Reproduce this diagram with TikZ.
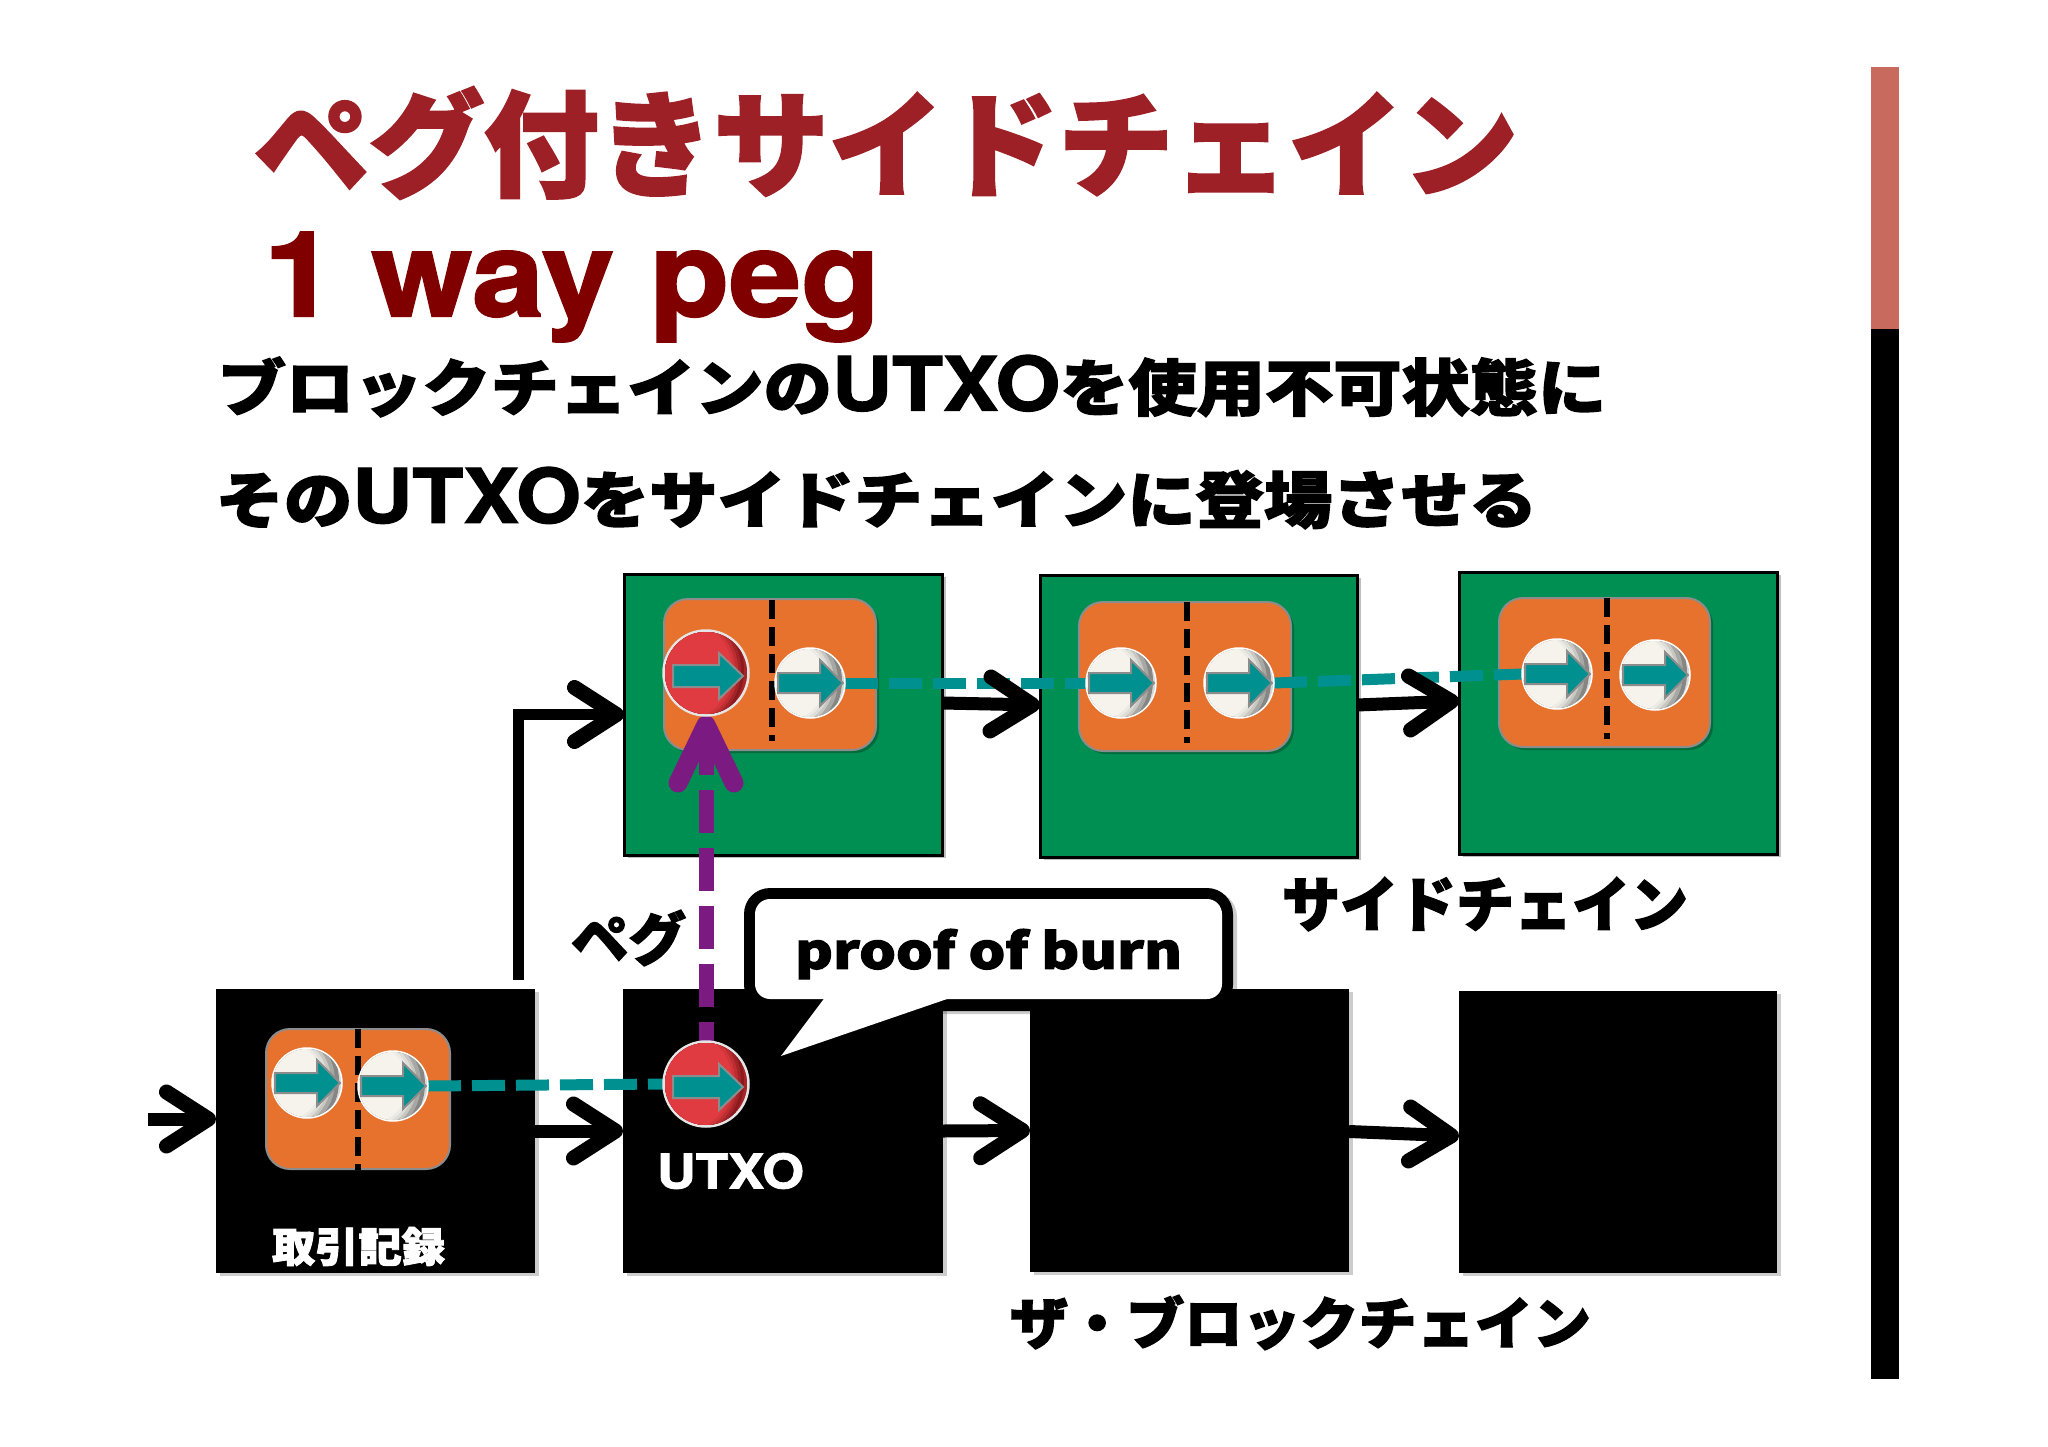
\documentclass[tikz,border=0pt]{standalone}
\usepackage{fontspec}
\usepackage{graphicx}
\usetikzlibrary{arrows.meta,shadows,calc}
\newfontfamily\jpf{Noto Sans CJK JP}[BoldFeatures={FakeBold=2.2}]
\newfontfamily\hvf{TeX Gyre Heros}[BoldFeatures={FakeBold=1.6}]
\newfontfamily\hvu{TeX Gyre Heros}[Scale=1.22,BoldFeatures={FakeBold=1.6}]
\definecolor{titlered}{HTML}{9E2027}
\definecolor{pegred}{HTML}{800000}
\definecolor{barpink}{HTML}{C96A5F}
\definecolor{gboxc}{HTML}{008F52}
\definecolor{oran}{HTML}{E7722E}
\definecolor{tealc}{HTML}{009090}
\definecolor{purp}{HTML}{7B1A80}
\definecolor{wba}{HTML}{F5F3EC}
\definecolor{wbb}{HTML}{868684}
\definecolor{wbc}{HTML}{D8D8D6}
\definecolor{rba}{HTML}{DF3B40}
\definecolor{rbb}{HTML}{8A1A1E}
\definecolor{rbc}{HTML}{A82428}
\pgfdeclarelayer{top}
\pgfsetlayers{main,top}
\tikzset{
 x=1pt,y=-1pt,
 gbox/.style={rectangle,inner sep=0,outer sep=0,fill=gboxc,draw=black,line width=3pt,drop shadow={shadow xshift=4pt,shadow yshift=-3pt,opacity=.25,fill=black}},
 kbox/.style={rectangle,inner sep=0,outer sep=0,fill=black,drop shadow={shadow xshift=4pt,shadow yshift=-3pt,opacity=.2,fill=black}},
 panel/.style={rectangle,rounded corners=24pt,inner sep=0,outer sep=0,fill=oran,draw=black!45,line width=2pt,drop shadow={shadow xshift=3pt,shadow yshift=-3pt,opacity=.25,fill=black}},
 wball/.style={circle,inner sep=0,outer sep=0,minimum size=70pt,fill=wbc,draw=white,line width=1.5pt},
 rball/.style={circle,inner sep=0,outer sep=0,minimum size=85pt,fill=rbc,draw=white!90!black,line width=2.5pt},
 conn/.style={draw=black,line width=13pt,-{Straight Barb[length=42pt,width=54pt,line width=15pt,round]}},
 tealdash/.style={draw=tealc,line width=11pt,dash pattern=on 33pt off 11pt},
 purpdash/.style={draw=purp,line width=15pt,dash pattern=on 43pt off 15pt,dash phase=23pt,-{Straight Barb[length=58pt,width=56pt,line width=19pt,round]}},
 divider/.style={draw=black,line width=5.5pt,dash pattern=on 19pt off 8pt},
 carrow/.style={fill=tealc,draw=black!45,line width=2pt},
}
\newcommand{\bx}[6]{%
 \pgfmathsetlengthmacro{\wbx}{(#4)-(#2)}\pgfmathsetlengthmacro{\hbx}{(#5)-(#3)}%
 \node[#6,minimum width=\wbx,minimum height=\hbx] (#1) at ({((#2)+(#4))/2},{((#3)+(#5))/2}) {};}
\newcommand{\fit}[7]{%
 \pgfmathsetlengthmacro{\wbx}{(#4)-(#2)}\pgfmathsetlengthmacro{\hbx}{(#5)-(#3)}%
 \node[inner sep=0,outer sep=0,text=#6] (#1) at ({((#2)+(#4))/2},{((#3)+(#5))/2}) {\resizebox*{\wbx}{\hbx}{#7}};}
\newcommand{\warr}[1]{\begin{scope}[shift={(#1.center)}]%
 \begin{scope}\clip (0,0) circle (34);%
 \foreach \xr/\m in {32/0,28/30,24/60,21/80,18/92,15/100}{\fill[wba!\m!wbb] (-25,-2) circle ({25+\xr});}%
 \end{scope}%
 \path[carrow] (-32,-10)--(10,-10)--(10,-23)--(33,0)--(10,23)--(10,10)--(-32,10)--cycle;\end{scope}}
\newcommand{\rarr}[1]{\begin{scope}[shift={(#1.center)}]%
 \begin{scope}\clip (0,0) circle (41);%
 \foreach \xr/\m in {38/0,35/30,32/60,29/85,26/100}{\fill[rba!\m!rbb] (-25,-3) circle ({25+\xr});}%
 \end{scope}%
 \path[carrow] (-33,-8)--(13,-8)--(13,-20)--(37,3)--(13,26)--(13,14)--(-33,14)--cycle;\end{scope}}
\begin{document}
\begin{tikzpicture}
\useasboundingbox (0,0) rectangle (2048,1447);
\fill[white] (0,0) rectangle (2048,1447);
% side bar
\fill[barpink] (1871,67) rectangle (1899,329);
\fill[black] (1871,329) rectangle (1899,1379);
% texts
\fit{ttl}{254}{87}{1518}{199}{titlered}{\jpf\bfseries ペグ付きサイドチェイン}
\fit{sub}{264}{232}{880}{342}{pegred}{\hvf\bfseries 1 way peg}
\fit{la}{218}{355}{1606}{417}{black}{\jpf\bfseries ブロックチェインの{\hvu\bfseries UTXO}を使用不可状態に}
\fit{lb}{216}{467}{1537}{529}{black}{\jpf\bfseries その{\hvu\bfseries UTXO}をサイドチェインに登場させる}
% boxes
\bx{g1}{624}{574}{942}{855}{gbox}
\bx{g2}{1040}{575}{1357}{857}{gbox}
\bx{g3}{1459}{572}{1777}{854}{gbox}
\bx{b1}{216}{989}{535}{1273}{kbox}
\bx{b2}{623}{989}{943}{1273}{kbox}
\bx{b3}{1030}{989}{1349}{1272}{kbox}
\bx{b4}{1459}{991}{1777}{1273}{kbox}
% panels
\bx{p1}{664}{599}{876}{750}{panel}
\bx{p2}{1079}{602}{1291}{751}{panel}
\bx{p3}{1499}{598}{1710}{747}{panel}
\bx{p0}{266}{1029}{450}{1169}{panel}
% dividers
\coordinate (d1a) at (772,600); \coordinate (d1b) at (772,741);
\coordinate (d2a) at (1187,602); \coordinate (d2b) at (1187,743);
\coordinate (d3a) at (1607,598); \coordinate (d3b) at (1607,739);
\coordinate (d0a) at (358,1029); \coordinate (d0b) at (358,1170);
\draw[divider] (d1a)--(d1b); \draw[divider] (d2a)--(d2b); \draw[divider] (d3a)--(d3b); \draw[divider] (d0a)--(d0b);
% balls on the upper layer
\begin{pgfonlayer}{top}
\path node[rball] (r1) at (706,673) {} node[rball] (r2) at (706,1084) {};
\path node[wball] (c12) at (810,683) {} node[wball] (c21) at (1121,683) {} node[wball] (c22) at (1239,683) {}
      node[wball] (c31) at (1557,674) {} node[wball] (c32) at (1655,675) {}
      node[wball] (c01) at (307,1083) {} node[wball] (c02) at (393,1086) {};
\rarr{r1}\rarr{r2}
\warr{c12}\warr{c21}\warr{c22}\warr{c31}\warr{c32}\warr{c01}\warr{c02}
\end{pgfonlayer}
% dashed connectors
\draw[tealdash] (c12.east) -- (c21.west);
\draw[tealdash] (c22.east) -- (c31.west);
\draw[tealdash] (c02.east) -- (r2.west);
% black connectors
\coordinate (entry) at (148,1119);
\coordinate (bs) at (518,980);
\draw[conn] (entry) -- ([yshift=12pt]b1.west);
\draw[conn] (b1.east) -- (b2.west);
\draw[conn] (b2.east) -- (b3.west);
\draw[conn] ([yshift=-1pt]b3.east) -- ([yshift=-4pt]b4.west);
\draw[conn] ([yshift=11.5pt]g1.east) -- ([yshift=11pt]g2.west);
\draw[conn] ([yshift=11pt]g2.east) -- ([yshift=12pt]g3.west);
\draw[conn,line width=11pt] (bs) |- (g1.west);
\draw[purpdash] (r2.north) -- (r1.south);
% callout
\fill[black,rounded corners=26pt,drop shadow={shadow xshift=4pt,shadow yshift=-3pt,opacity=.2,fill=black}] (744,888) rectangle (1233,1011);
\fill[white,rounded corners=15pt] (755,899) rectangle (1222,999);
\fill[white] (829,992) -- (781,1056) -- (947,999) -- (947,992) -- cycle;
\fit{pob}{795}{929}{1182}{979}{black}{\jpf\bfseries proof of burn}
% labels
\fit{peg}{571}{910}{686}{966}{black}{\jpf\bfseries ペグ}
\fit{sc}{1282}{877}{1688}{931}{black}{\jpf\bfseries サイドチェイン}
\fit{tb}{1010}{1295}{1591}{1350}{black}{\jpf\bfseries ザ・ブロックチェイン}
\fit{ut}{657}{1153}{804}{1189}{white}{\hvf\bfseries UTXO}
\fit{tr}{272}{1227}{445}{1266}{white}{\jpf\bfseries 取引記録}
\end{tikzpicture}
\end{document}
